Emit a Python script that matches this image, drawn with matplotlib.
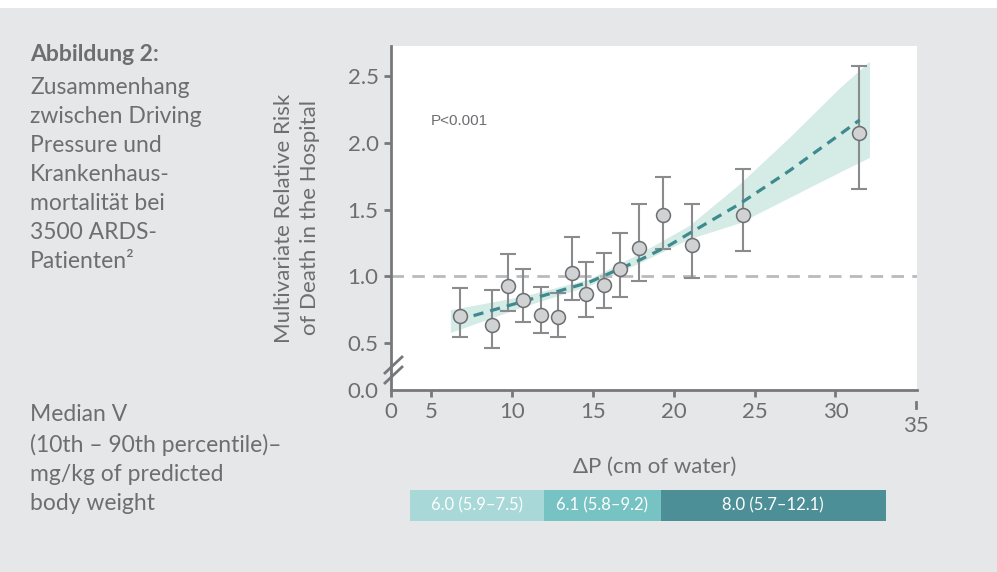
import matplotlib
matplotlib.use("Agg")
import matplotlib.pyplot as plt
from matplotlib.patches import Rectangle

plt.rcParams['font.family'] = ['Lato', 'DejaVu Sans']

# data
dp = [6.77, 8.76, 9.76, 10.69, 11.77, 12.83, 13.69, 14.56, 15.69, 16.68, 17.88, 19.36, 21.13, 24.31, 31.48]
rr = [0.706, 0.634, 0.925, 0.826, 0.714, 0.694, 1.025, 0.868, 0.935, 1.055, 1.209, 1.456, 1.237, 1.461, 2.073]
rr_hi = [0.915, 0.895, 1.169, 1.052, 0.918, 0.875, 1.291, 1.107, 1.172, 1.326, 1.538, 1.745, 1.545, 1.802, 2.576]
rr_lo = [0.544, 0.46, 0.739, 0.656, 0.572, 0.547, 0.821, 0.696, 0.761, 0.846, 0.965, 1.207, 0.985, 1.187, 1.65]

fit_x = [6.6, 10.63, 14.76, 17.86, 19.7, 20.95, 24.05, 27.15, 30.25, 31.49]
fit_y = [0.67, 0.81, 0.955, 1.12, 1.23, 1.32, 1.54, 1.79, 2.06, 2.17]

band_x = [6.19, 10.63, 14.76, 17.86, 20.95, 24.05, 27.15, 30.25, 32.1]
band_hi = [0.75, 0.85, 0.98, 1.17, 1.38, 1.69, 2.04, 2.41, 2.61]
band_lo = [0.58, 0.77, 0.93, 1.10, 1.28, 1.40, 1.59, 1.78, 1.89]

vt_labels = ["6.0 (5.9–7.5)", "6.1 (5.8–9.2)", "8.0 (5.7–12.1)"]
vt_start = [3.7, 11.95, 19.2]
vt_end = [11.95, 19.2, 33.1]
vt_colors = ["#a9d8d8", "#77c3c4", "#4d8f96"]

yticks = [0.5, 1.0, 1.5, 2.0, 2.5]
xticks = [5, 10, 15, 20, 25, 30]

BG = "#e6e7e8"
TXT = "#6d6e71"
AX = "#77787b"

W, H = 997, 572
fig = plt.figure(figsize=(W / 100, H / 100), dpi=100, facecolor=BG)
fig.patches.append(Rectangle((0, 1 - 8 / H), 1, 8 / H, transform=fig.transFigure,
                             facecolor="white", edgecolor="none"))

x0, x1 = 2.52, 35.04
y0, y1 = 0.149, 2.724
ax = fig.add_axes([391 / W, 1 - 390 / H, (917 - 391) / W, (390 - 46) / H])
ax.set_facecolor("white")
ax.set_xlim(x0, x1)
ax.set_ylim(y0, y1)

ax.fill_between(band_x, band_lo, band_hi, color="#d4ebe6", lw=0, zorder=1)
ax.axhline(1.0, color="#b9babc", lw=2, dashes=(4.5, 3), zorder=2)
ax.plot(fit_x, fit_y, color="#3e8a8e", lw=2.3, dashes=(3.2, 2.2), zorder=4)
ax.errorbar(dp, rr, yerr=[[a - b for a, b in zip(rr, rr_lo)], [b - a for a, b in zip(rr, rr_hi)]],
            fmt="none", ecolor="#8a8b8d", elinewidth=1.5, capsize=5.5, capthick=1.5, zorder=3)
ax.plot(dp, rr, "o", ms=10, mfc="#d1d2d4", mec="#6d6e71", mew=1.1, zorder=5)

ax.text(5.0, 2.164, "P<0.001", fontsize=11, color=TXT, family="Liberation Sans", va="center")

for s in ["top", "right"]:
    ax.spines[s].set_visible(False)
for s in ["left", "bottom"]:
    ax.spines[s].set_color(AX)
    ax.spines[s].set_linewidth(2)

ax.set_yticks([y0] + yticks)
ax.set_yticklabels(["0.0"] + ["%.1f" % v for v in yticks])
ax.yaxis.get_major_ticks()[0].tick1line.set_visible(False)
ax.set_xticks([x0] + xticks)
ax.set_xticklabels(["0"] + [str(v) for v in xticks])
ax.tick_params(colors=AX, labelcolor=TXT, labelsize=16, length=5, width=2, pad=4)

# 35 tick drawn a bit below the axis end
xt = ax.get_xaxis_transform()
ax.plot([35, 35], [-0.035, -0.053], color=AX, lw=2, clip_on=False, transform=xt)
ax.text(35, -0.075, "35", transform=xt, ha="center", va="top", fontsize=16, color=TXT)

# axis break on y
for dy in (0, 10):
    fig.add_artist(plt.Line2D([385 / W, 402 / W], [1 - (373 + dy) / H, 1 - (357 + dy) / H],
                              color=AX, lw=2))

fig.text(297 / W, 1 - 218 / H, "Multivariate Relative Risk\nof Death in the Hospital",
         fontsize=16, color=TXT, rotation=90, ha="center", va="center",
         linespacing=1.42, multialignment="center")
fig.text(655 / W, 1 - 467 / H, "ΔP (cm of water)", fontsize=16, color=TXT,
         ha="center", va="center")

# V_T bar below
bx = fig.add_axes([391 / W, 1 - 521 / H, (917 - 391) / W, 31 / H])
bx.set_xlim(x0, x1)
bx.set_ylim(0, 1)
bx.axis("off")
for s, e, c, lab in zip(vt_start, vt_end, vt_colors, vt_labels):
    bx.add_patch(Rectangle((s, 0), e - s, 1, facecolor=c, edgecolor="none"))
    bx.text((s + e) / 2, 0.5, lab, color="white", fontsize=12, ha="center", va="center")

fig.text(30 / W, 1 - 44 / H, "Abbildung 2:", fontsize=16.5, fontweight="bold", color=TXT, va="top")
fig.text(30 / W, 1 - 77 / H,
         "Zusammenhang\nzwischen Driving\nPressure und\nKrankenhaus-\nmortalität bei\n3500 ARDS-\nPatienten²",
         fontsize=16.5, color=TXT, va="top", linespacing=1.47)
fig.text(30 / W, 1 - 404 / H,
         "Median V\n(10th – 90th percentile)–\nmg/kg of predicted\nbody weight",
         fontsize=16.5, color=TXT, va="top", linespacing=1.47)

fig.savefig("out.png", dpi=100, facecolor=BG)
